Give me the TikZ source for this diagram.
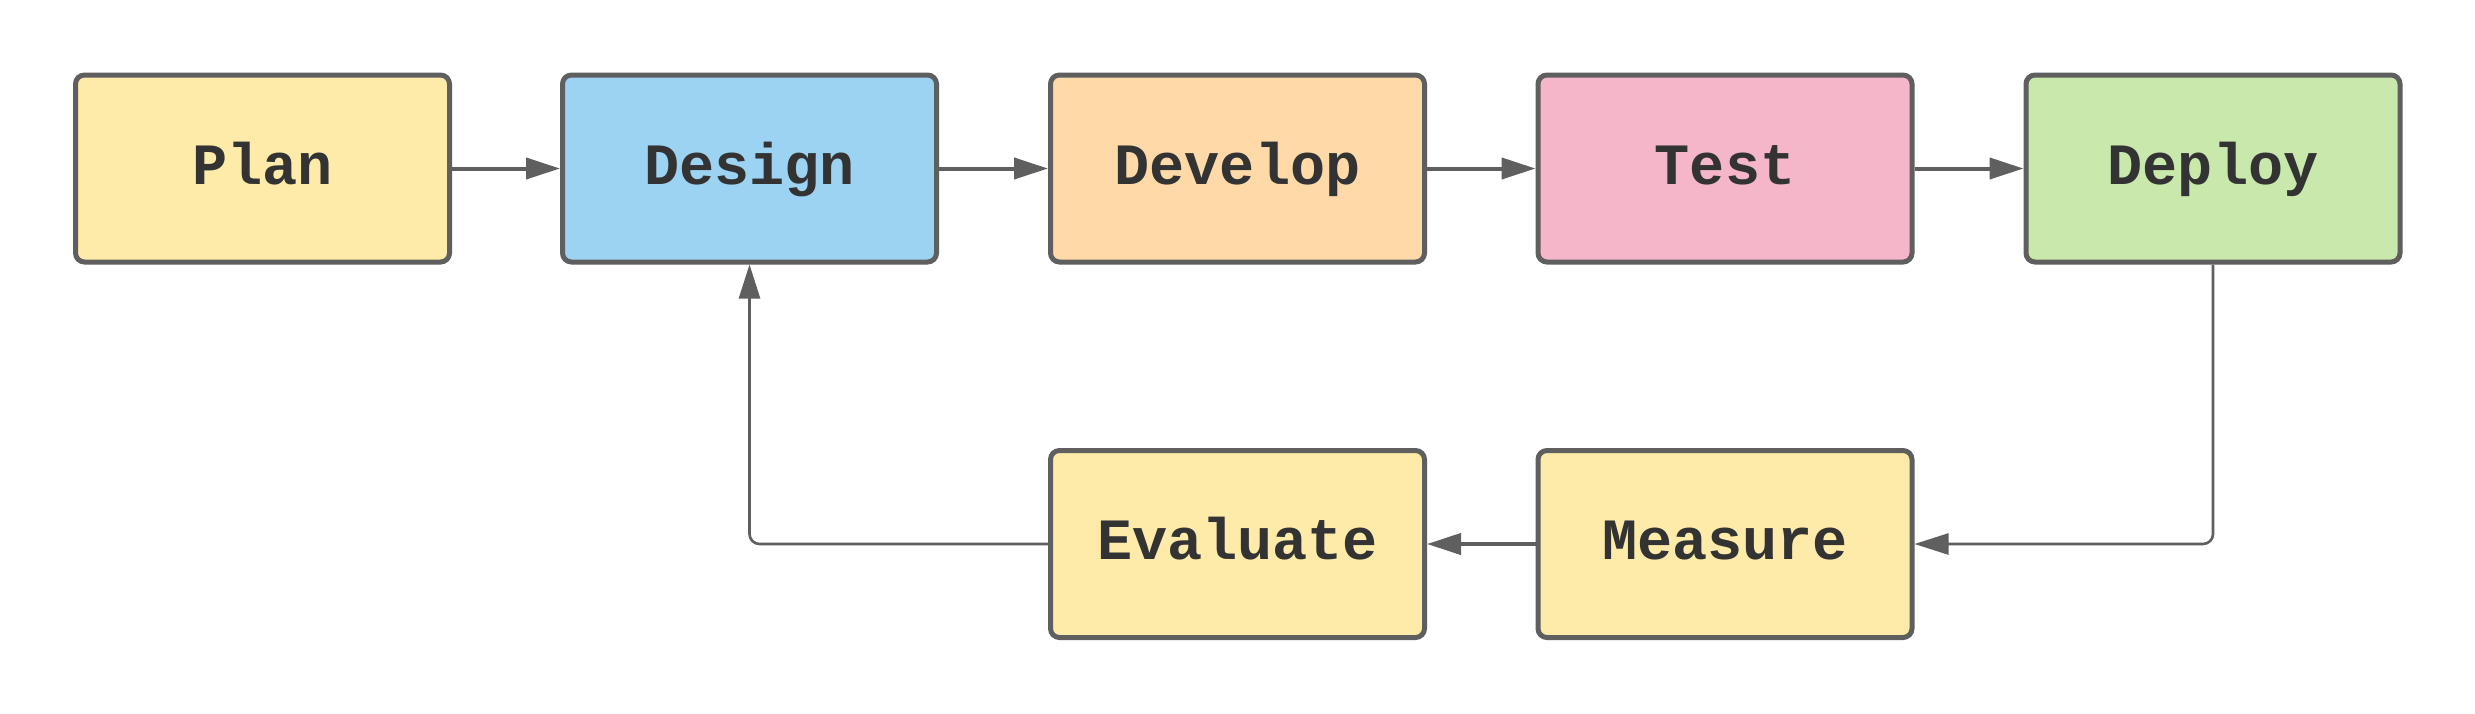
\documentclass[tikz,border=0pt]{standalone}
\usepackage{fontspec}
\setmonofont{Liberation Mono}
\usetikzlibrary{arrows.meta}
\definecolor{bordc}{HTML}{5F5F5F}
\definecolor{txtc}{HTML}{333333}
\definecolor{cyel}{HTML}{FFEBA9}
\definecolor{cblue}{HTML}{9CD2F2}
\definecolor{corange}{HTML}{FFDAA8}
\definecolor{cpink}{HTML}{F4B6C8}
\definecolor{cgreen}{HTML}{C8E8AC}
\tikzset{
  stagebox/.style={draw=bordc, line width=5pt, rounded corners=9pt,
    minimum width=374pt, minimum height=187pt, inner sep=0pt,
    text height=45pt, text depth=14pt,
    text=txtc, font=\fontsize{58.5}{70}\selectfont\ttfamily\bfseries},
  flow/.style={draw=bordc, line width=4pt, -{Triangle[length=34pt,width=21pt]}},
  backflow/.style={draw=bordc, line width=2.6pt, rounded corners=10pt, -{Triangle[length=34pt,width=21pt]}}
}
\begin{document}
\begin{tikzpicture}[x=1pt,y=1pt]
\useasboundingbox[fill=white] (0,0) rectangle (2475,-713);
\node[stagebox, fill=cyel]    (plan)    at (262.5,-168.5) {Plan};
\node[stagebox, fill=cblue]   (design)  at (749.5,-168.5) {Design};
\node[stagebox, fill=corange] (develop) at (1237.5,-168.5) {Develop};
\node[stagebox, fill=cpink]   (test)    at (1725,-168.5) {Test};
\node[stagebox, fill=cgreen]  (deploy)  at (2213,-168.5) {Deploy};
\node[stagebox, fill=cyel]    (measure) at (1725,-544) {Measure};
\node[stagebox, fill=cyel]    (evaluate) at (1237.5,-544) {Evaluate};
\draw[flow] (plan) -- (design);
\draw[flow] (design) -- (develop);
\draw[flow] (develop) -- (test);
\draw[flow] (test) -- (deploy);
\draw[backflow] (deploy.south) |- (measure.east);
\draw[flow] (measure) -- (evaluate);
\draw[backflow] (evaluate.west) -| (design.south);
\end{tikzpicture}
\end{document}
